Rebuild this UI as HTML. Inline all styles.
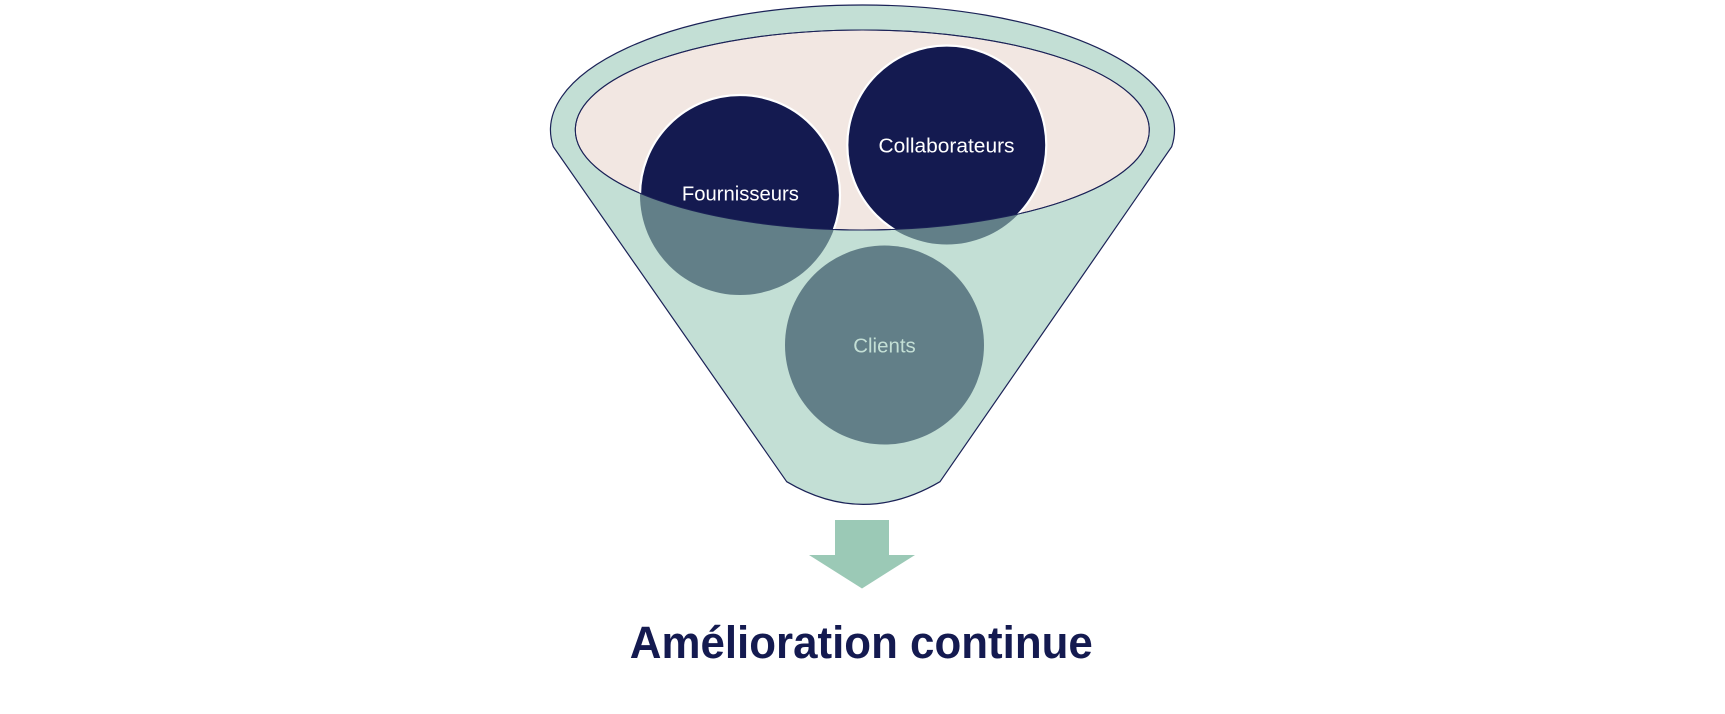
<!DOCTYPE html>
<html>
<head>
<meta charset="utf-8">
<style>
html,body{margin:0;padding:0;background:#ffffff;}
svg{display:block;}
</style>
</head>
<body>
<svg width="1725" height="714" viewBox="0 0 1725 714" xmlns="http://www.w3.org/2000/svg">
<defs>
  <clipPath id="innerClip">
    <ellipse cx="862.3" cy="130" rx="287" ry="100"/>
  </clipPath>
  <mask id="outerMask" maskUnits="userSpaceOnUse" x="0" y="0" width="1725" height="714">
    <rect x="0" y="0" width="1725" height="714" fill="#fff"/>
    <ellipse cx="862.3" cy="130" rx="287" ry="100" fill="#000"/>
  </mask>
</defs>

<!-- funnel body -->
<path d="M553.3,146.7 A312,125 0 1,1 1171.7,146.7 L940,481.7 Q863,527 786.7,481.7 Z"
      fill="#C3DFD5" stroke="#1B2257" stroke-width="1.2"/>

<!-- inner ellipse -->
<ellipse cx="862.3" cy="130" rx="287" ry="100" fill="#F2E7E2" stroke="#1B2257" stroke-width="1.1"/>

<!-- circles inside the inner ellipse (navy) -->
<g clip-path="url(#innerClip)">
  <circle cx="740" cy="195" r="100" fill="#141A50" stroke="#ffffff" stroke-width="2.2"/>
  <circle cx="946.8" cy="145" r="99.5" fill="#141A50" stroke="#ffffff" stroke-width="2.2"/>
</g>

<!-- circle parts below the inner ellipse (greyed) -->
<g mask="url(#outerMask)">
  <circle cx="740" cy="195" r="100" fill="#627F88"/>
  <circle cx="946.8" cy="145" r="99.5" fill="#627F88"/>
  <circle cx="884.5" cy="345" r="99.5" fill="#627F88"/>
</g>

<!-- inner ellipse outline redrawn on top -->
<ellipse cx="862.3" cy="130" rx="287" ry="100" fill="none" stroke="#1B2257" stroke-width="1"/>

<!-- labels -->
<text x="740.4" y="200.5" text-anchor="middle" font-family="'Liberation Sans', sans-serif" font-size="20" fill="#ffffff" textLength="117" lengthAdjust="spacingAndGlyphs">Fournisseurs</text>
<text x="946.5" y="152.3" text-anchor="middle" font-family="'Liberation Sans', sans-serif" font-size="20" fill="#ffffff" textLength="136" lengthAdjust="spacingAndGlyphs">Collaborateurs</text>
<text x="884.5" y="352.3" text-anchor="middle" font-family="'Liberation Sans', sans-serif" font-size="20" fill="#C3DFD5" textLength="62.5" lengthAdjust="spacingAndGlyphs">Clients</text>

<!-- arrow -->
<polygon points="835,520 889,520 889,555 915,555 862,588.5 809,555 835,555" fill="#9BC9B6"/>

<!-- bottom title -->
<text x="861.3" y="658" text-anchor="middle" font-family="'Liberation Sans', sans-serif" font-weight="bold" font-size="45" fill="#141A50" textLength="463" lengthAdjust="spacingAndGlyphs">Amélioration continue</text>
</svg>
</body>
</html>
